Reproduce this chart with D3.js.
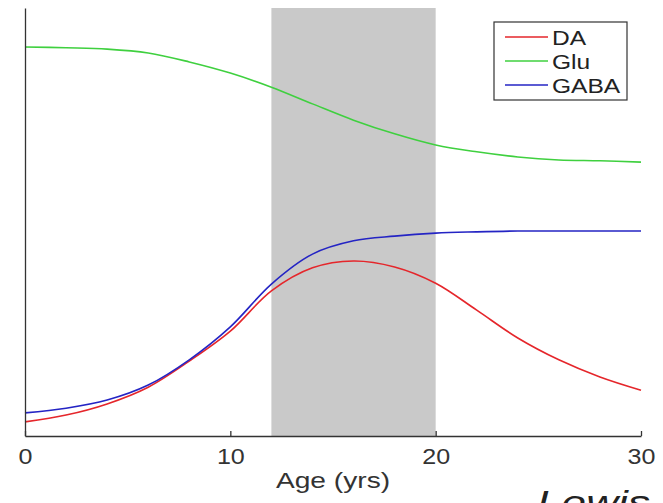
<!DOCTYPE html>
<html>
<head>
<meta charset="utf-8">
<script src="https://cdn.jsdelivr.net/npm/d3@7"></script>
<style>
    body { margin: 0; background: #fff; }
    svg { display: block; font-family: "Liberation Sans", Arial, sans-serif; }
    .axis path, .axis line { stroke: #333; stroke-width: 1.3; }
    .axis text { font-size: 22px; fill: #333; font-family: "Liberation Sans", Arial, sans-serif; }
    .curve { fill: none; stroke-width: 1.6; }
</style>
</head>
<body>
<div id="svg_container"></div>
<script>
// age in years, sampled every 2 yrs
var ages = [0, 2, 4, 6, 8, 10, 12, 14, 16, 18, 20, 22, 24, 26, 28, 30];
// relative levels (arbitrary units)
var daValues   = [3.3, 4.9, 7.5, 11.4, 17.5, 24.5, 33.9, 39.3, 40.9, 39.5, 35.7, 29.4, 22.9, 17.8, 13.8, 10.7];
var gluValues  = [90.9, 90.7, 90.4, 89.5, 87.4, 84.8, 81.5, 77.6, 73.8, 70.6, 68.0, 66.4, 65.2, 64.5, 64.3, 64.0];
var gabaValues = [5.4, 6.5, 8.4, 11.9, 17.8, 25.5, 35.5, 42.5, 45.6, 46.7, 47.4, 47.7, 47.9, 47.9, 47.9, 47.9];
var seriesNames = ["DA", "Glu", "GABA"];
var seriesColors = ["#e5262b", "#3fd03f", "#2424c4"];
var xTicks = [0, 10, 20, 30];
var window_ = [12, 20]; // shaded age range

var width = 663, height = 503;
var margin = {top: 8, right: 22, bottom: 67, left: 25};
var graphWidth = width - margin.left - margin.right;
var graphHeight = height - margin.top - margin.bottom;

var svg = d3.select("#svg_container")
        .append("svg")
        .attr("width", width)
        .attr("height", height);
var g = svg.append("g")
        .attr("transform", "translate(" + margin.left + "," + margin.top + ")");

var x = d3.scaleLinear().domain([0, 30]).range([0, graphWidth]);
var y = d3.scaleLinear().domain([0, 100]).range([graphHeight, 0]);

// shaded window
g.append("rect")
        .attr("x", x(window_[0]))
        .attr("y", 0)
        .attr("width", x(window_[1]) - x(window_[0]))
        .attr("height", graphHeight)
        .attr("fill", "#c9c9c9");

var allValues = [daValues, gluValues, gabaValues];
var line = d3.line()
        .x(function (d) { return x(d[0]); })
        .y(function (d) { return y(d[1]); })
        .curve(d3.curveCatmullRom.alpha(0.5));

allValues.forEach(function (vals, i) {
    g.append("path")
            .datum(ages.map(function (a, j) { return [a, vals[j]]; }))
            .attr("class", "curve")
            .attr("stroke", seriesColors[i])
            .attr("d", line);
});

// axes
g.append("g")
        .attr("class", "x axis")
        .attr("transform", "translate(0," + graphHeight + ")")
        .call(d3.axisBottom(x).tickValues(xTicks).tickSizeInner(-5).tickSizeOuter(0).tickPadding(12))
        .selectAll(".tick text")
        .attr("transform", "scale(1.14,1)");
g.append("g")
        .attr("class", "y axis")
        .call(d3.axisLeft(y).tickValues([]).tickSizeOuter(0));

// the source figure text is a bit stretched sideways
svg.append("text")
        .attr("transform", "translate(" + (margin.left + graphWidth / 2) + ",488) scale(1.28,1)")
        .attr("text-anchor", "middle")
        .attr("font-size", 22)
        .attr("fill", "#333")
        .text("Age (yrs)");

svg.append("text")
        .attr("transform", "translate(537,514) scale(1.3,1)")
        .attr("font-size", 34)
        .attr("font-style", "italic")
        .attr("fill", "#222")
        .text("Lewis Lab");

// legend
var legend = svg.append("g").attr("transform", "translate(494,22)");
legend.append("rect")
        .attr("width", 133)
        .attr("height", 78)
        .attr("fill", "#fff")
        .attr("stroke", "#333")
        .attr("stroke-width", 1.2);
seriesNames.forEach(function (name, i) {
    var ly = 15 + i * 24;
    legend.append("line")
            .attr("x1", 11).attr("x2", 54)
            .attr("y1", ly).attr("y2", ly)
            .attr("stroke", seriesColors[i])
            .attr("stroke-width", 1.4);
    legend.append("text")
            .attr("transform", "translate(58," + ly + ") scale(1.17,1)")
            .attr("dy", "0.36em")
            .attr("font-size", 21)
            .attr("fill", "#222")
            .text(name);
});
</script>
</body>
</html>
